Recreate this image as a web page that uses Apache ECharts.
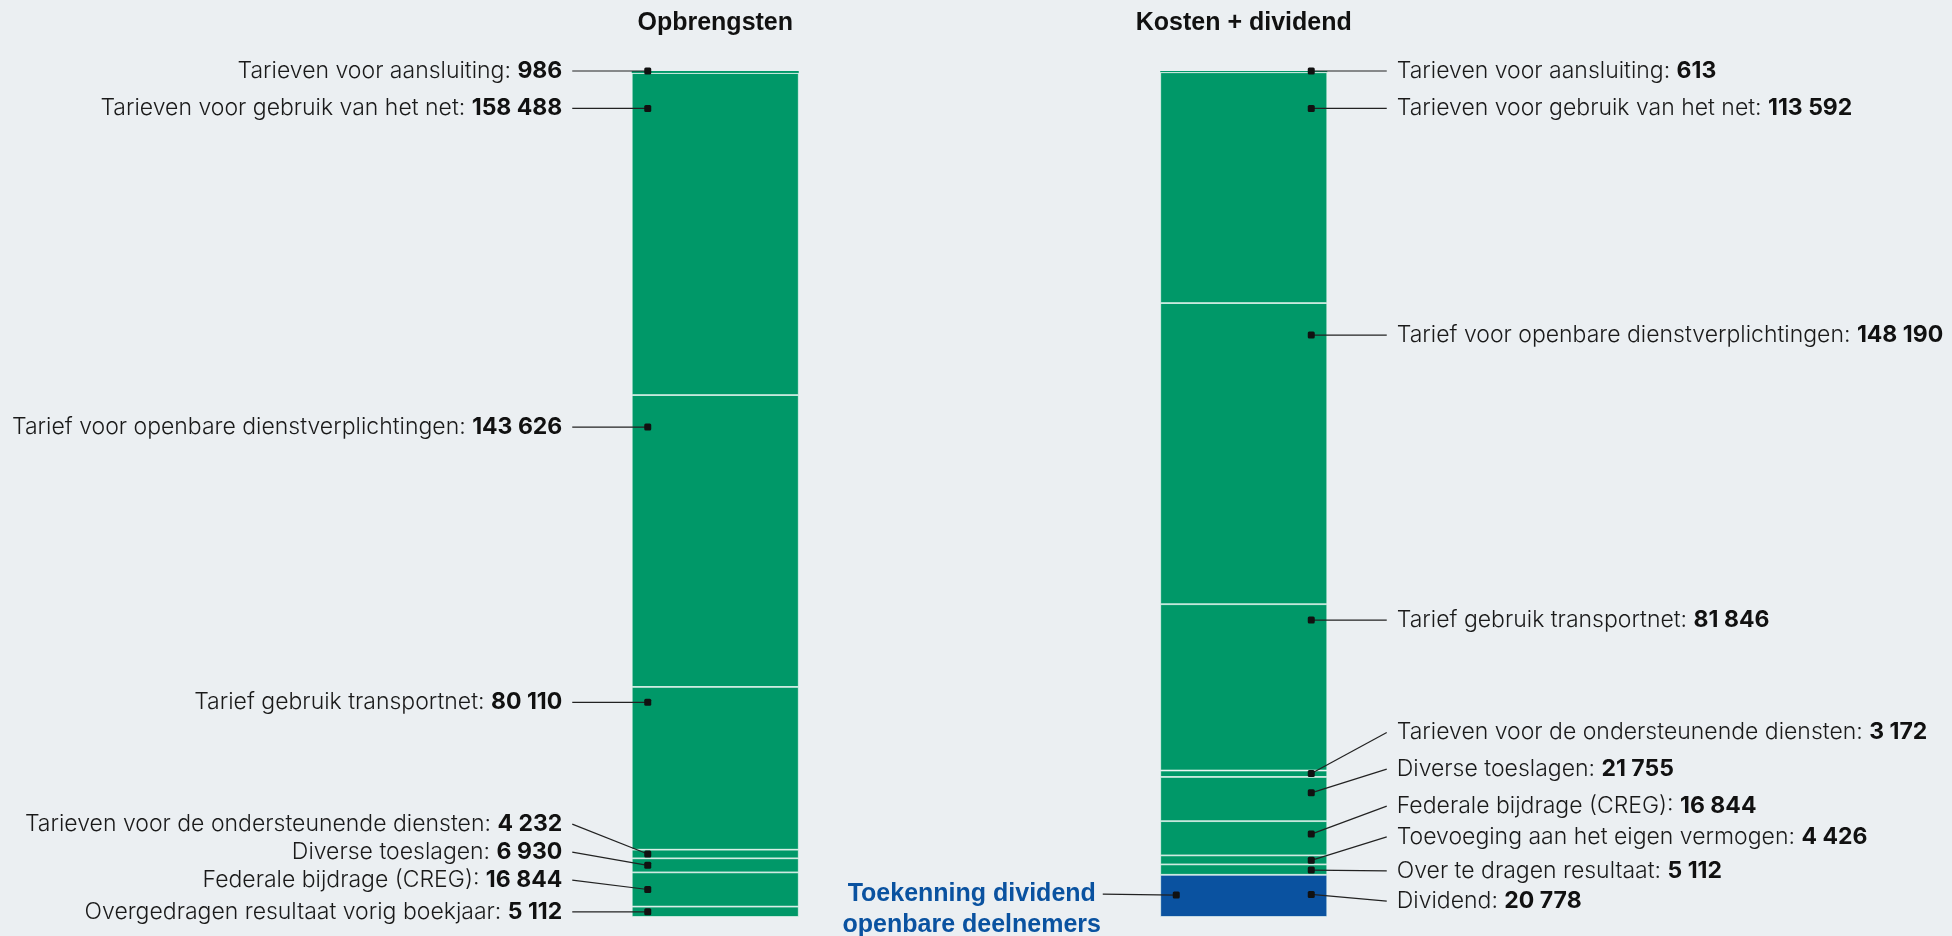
<!DOCTYPE html>
<html>
<head>
<meta charset="utf-8">
<script src="https://cdn.jsdelivr.net/npm/echarts@6/dist/echarts.min.js"></script>
<style>
html,body{margin:0;padding:0;background:#ebeff2;}
#chart{width:1952px;height:936px;}
</style>
</head>
<body>
<div id="chart"></div>
<script>
// ---- data ----
const categories = ['Opbrengsten', 'Kosten + dividend'];

const leftNames = [
  'Tarieven voor aansluiting',
  'Tarieven voor gebruik van het net',
  'Tarief voor openbare dienstverplichtingen',
  'Tarief gebruik transportnet',
  'Tarieven voor de ondersteunende diensten',
  'Diverse toeslagen',
  'Federale bijdrage (CREG)',
  'Overgedragen resultaat vorig boekjaar'
];
const leftValues = [986, 158488, 143626, 80110, 4232, 6930, 16844, 5112];

const rightNames = [
  'Tarieven voor aansluiting',
  'Tarieven voor gebruik van het net',
  'Tarief voor openbare dienstverplichtingen',
  'Tarief gebruik transportnet',
  'Tarieven voor de ondersteunende diensten',
  'Diverse toeslagen',
  'Federale bijdrage (CREG)',
  'Toevoeging aan het eigen vermogen',
  'Over te dragen resultaat',
  'Dividend'
];
const rightValues = [613, 113592, 148190, 81846, 3172, 21755, 16844, 4426, 5112, 20778];

// annotation anchors, in axis units (cumulative value from the top of the bar)
const leftDotAt   = [0, 18400, 175250, 310700, 385326, 390907, 402794, 413772];
const leftLabelAt = [0, 18400, 175250, 310700, 370620, 384400, 398200, 413800];
const rightDotAt   = [0, 18400, 129970, 270230, 345670, 355220, 375540, 388440, 393260, 405220];
const rightLabelAt = [0, 18400, 129970, 270230, 325490, 343550, 361760, 376870, 393600, 408510];

const dividendNote = ['Toekenning dividend', 'openbare deelnemers'];
const dividendNoteDotAt = 405560;
const dividendNoteLabelAt = 405100;

// ---- helpers ----
const fmt = v => String(v).replace(/\B(?=(\d{3})+(?!\d))/g, ' ');
const total = leftValues.reduce((a, b) => a + b, 0);
const GREEN = '#009868', BLUE = '#0a52a0';
const FONT = 'Inter, "Liberation Sans", Arial, sans-serif';
const TFONT = '"Liberation Sans", Arial, Helvetica, sans-serif';

// bar series: one per stack level
const nSeries = Math.max(leftValues.length, rightValues.length);
const barSeries = [];
for (let i = 0; i < nSeries; i++) {
  const isDividend = i === rightValues.length - 1;
  barSeries.push({
    type: 'bar',
    stack: 'total',
    name: rightNames[i],
    barWidth: 167,
    silent: true,
    data: [
      leftValues[i] !== undefined ? { value: leftValues[i], itemStyle: { color: GREEN } } : '-',
      { value: rightValues[i], itemStyle: { color: isDividend ? BLUE : GREEN } }
    ],
    itemStyle: { borderColor: 'rgba(235,248,242,0.9)', borderWidth: i === 0 ? 0 : 0.8 }
  });
}

// annotation items: [category, dotValue, labelValue, side, key]
const annData = [];
leftValues.forEach((v, i) => annData.push([0, leftDotAt[i], leftLabelAt[i], -1, 'L' + i]));
rightValues.forEach((v, i) => annData.push([1, rightDotAt[i], rightLabelAt[i], 1, 'R' + i]));
annData.push([1, dividendNoteDotAt, dividendNoteLabelAt, -1, 'N']);

function renderAnn(params, api) {
  const d = annData[params.dataIndex];
  const cat = d[0], side = d[3], key = d[4];
  const dot = api.coord([cat, d[1]]);
  const lab = api.coord([cat, d[2]]);
  const cx = dot[0];
  const dotX = cx + side * 67.5;
  const children = [];
  let lineOuterX;
  if (key === 'N') {
    lineOuterX = cx - 141;
    children.push({
      type: 'text',
      style: {
        text: dividendNote.join('\n'),
        x: cx - 272, y: lab[1] - 16,
        align: 'center', verticalAlign: 'top',
        fontFamily: TFONT, fontSize: 25, fontWeight: 'bold',
        lineHeight: 31, fill: BLUE
      }
    });
  } else {
    const idx = +key.slice(1);
    const name = key[0] === 'L' ? leftNames[idx] : rightNames[idx];
    const val = key[0] === 'L' ? leftValues[idx] : rightValues[idx];
    lineOuterX = cx + side * 143;
    children.push({
      type: 'text',
      style: {
        text: '{n|' + name + ': }{b|' + fmt(val) + '}',
        x: cx + side * 153, y: lab[1],
        align: side < 0 ? 'right' : 'left', verticalAlign: 'middle',
        rich: {
          n: { fontFamily: FONT, fontSize: 23, fontWeight: 300, fill: '#1a1a1a' },
          b: { fontFamily: FONT, fontSize: 23, fontWeight: 'bold', fill: '#111' }
        }
      }
    });
  }
  children.push({
    type: 'line',
    shape: { x1: lineOuterX, y1: lab[1], x2: dotX, y2: dot[1] },
    style: { stroke: '#222', lineWidth: 1.2 }
  });
  children.push({
    type: 'rect',
    shape: { x: dotX - 3.5, y: dot[1] - 3.5, width: 7, height: 7, r: 1.5 },
    style: { fill: '#111' }
  });
  return { type: 'group', children };
}

const chart = echarts.init(document.getElementById('chart'));
chart.setOption({
  backgroundColor: '#ebeff2',
  animation: false,
  grid: { left: 451, right: 1952 - 1508, top: 71, bottom: 19, containLabel: false },
  xAxis: {
    type: 'category',
    data: categories,
    position: 'top',
    axisLine: { show: false },
    axisTick: { show: false },
    axisLabel: {
      margin: 35,
      fontFamily: TFONT, fontSize: 25, fontWeight: 'bold', color: '#111'
    }
  },
  yAxis: {
    type: 'value', inverse: true, min: 0, max: total, show: false
  },
  series: barSeries.concat([{
    type: 'custom',
    renderItem: renderAnn,
    clip: false,
    silent: true,
    z: 10,
    encode: { x: 0, y: 1 },
    data: annData.map(d => [d[0], d[1], d[2]])
  }])
});
</script>
</body>
</html>
